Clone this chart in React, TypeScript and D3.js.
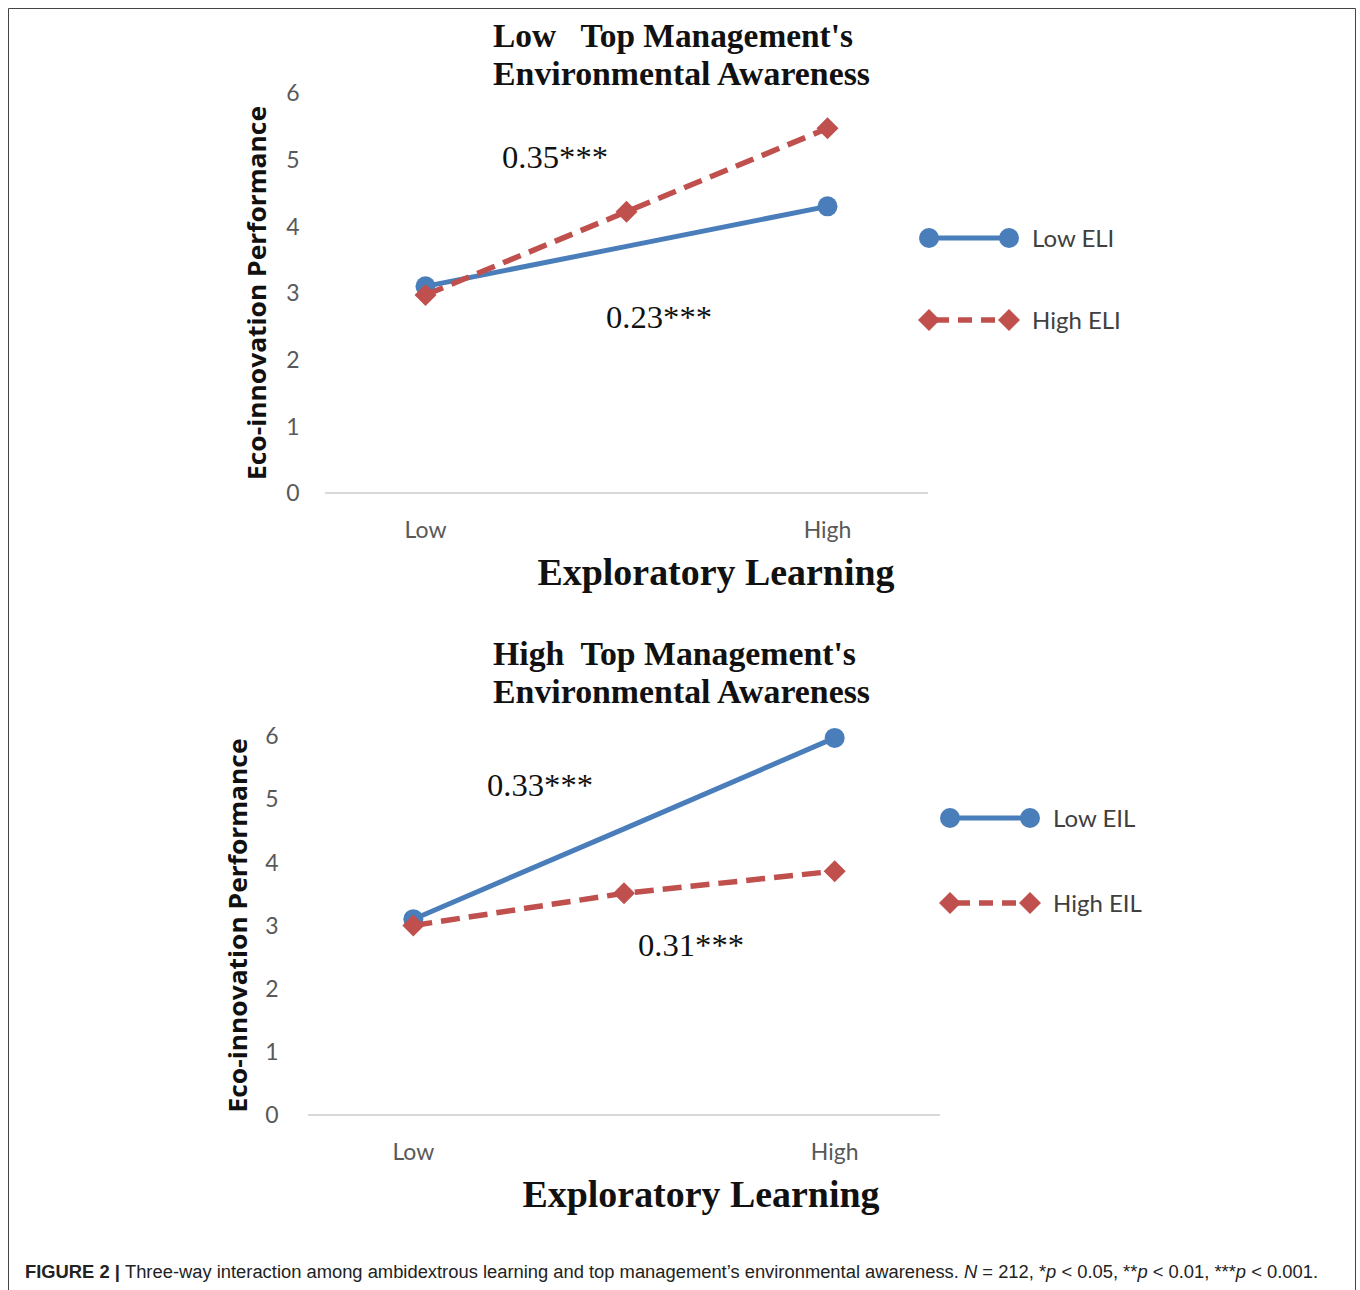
import React from "react";
import * as d3 from "d3";

const categories = ["Low", "", "High"];
const yTicks = [0, 1, 2, 3, 4, 5, 6];

// Panel 1: Low top management's environmental awareness
const top_lowELI = [3.1, 3.7, 4.3];
const top_highELI = [2.97, 4.22, 5.47];
// Panel 2: High top management's environmental awareness
const bot_lowEIL = [3.1, 4.53, 5.97];
const bot_highEIL = [3.0, 3.51, 3.86];

const solidMarkers = [true, false, true];
const dashedMarkers = [true, true, true];

const BLUE = "#4a7ebb";
const RED = "#c0504d";
const TICK = "#595959";
const SERIF = "'Liberation Serif', 'Times New Roman', serif";
const SANS = "Lato, 'Noto Sans', sans-serif";

type PanelProps = {
  title1: string;
  title2: string;
  title1Len: number;
  titleX: number;
  titleY: number;
  x0: number;
  x1: number;
  yTop: number;
  yBottom: number;
  tickX: number;
  yTitleX: number;
  xTitleX: number;
  xTitleY: number;
  catLabelY: number;
  solid: number[];
  dashed: number[];
  ann1: { text: string; x: number; y: number };
  ann2: { text: string; x: number; y: number };
  legendX: number;
  legendY1: number;
  legendY2: number;
  legend1: string;
  legend2: string;
};

function Diamond({ cx, cy, r, fill }: { cx: number; cy: number; r: number; fill: string }) {
  return (
    <path
      d={`M${cx},${cy - r}L${cx + r},${cy}L${cx},${cy + r}L${cx - r},${cy}Z`}
      fill={fill}
    />
  );
}

function Panel(p: PanelProps) {
  const x = d3.scaleBand<string>().domain(categories.map((c, i) => String(i))).range([p.x0, p.x1]);
  const y = d3.scaleLinear().domain([0, 6]).range([p.yBottom, p.yTop]);
  const cx = (i: number) => (x(String(i)) as number) + x.bandwidth() / 2;
  const line = d3
    .line<number>()
    .x((_, i) => cx(i))
    .y((d) => y(d));

  return (
    <g>
      <text
        x={p.titleX}
        y={p.titleY}
        fontFamily={SERIF}
        fontWeight="bold"
        fontSize={33}
        fill="#111"
        style={{ whiteSpace: "pre" }}
        textLength={p.title1Len}
        lengthAdjust="spacingAndGlyphs"
      >
        {p.title1}
      </text>
      <text
        x={p.titleX}
        y={p.titleY + 38}
        fontFamily={SERIF}
        fontWeight="bold"
        fontSize={33}
        fill="#111"
        textLength={377}
        lengthAdjust="spacingAndGlyphs"
      >
        {p.title2}
      </text>

      {yTicks.map((t) => (
        <text
          key={t}
          x={p.tickX}
          y={y(t)}
          dy="0.36em"
          textAnchor="middle"
          fontFamily={SANS}
          fontSize={23}
          fill={TICK}
        >
          {t}
        </text>
      ))}

      <line x1={p.x0} x2={p.x1} y1={y(0)} y2={y(0)} stroke="#d9d9d9" strokeWidth={2} />

      {categories.map((c, i) => (
        <text
          key={i}
          x={cx(i)}
          y={p.catLabelY}
          dy="0.36em"
          textAnchor="middle"
          fontFamily={SANS}
          fontSize={23}
          fill={TICK}
        >
          {c}
        </text>
      ))}

      <text
        transform={`translate(${p.yTitleX},${(p.yTop + p.yBottom) / 2}) rotate(-90)`}
        textAnchor="middle"
        dy="0.36em"
        fontFamily="'Open Sans', Lato, sans-serif"
        fontWeight="bold"
        fontSize={25}
        fill="#111"
        textLength={374}
        lengthAdjust="spacingAndGlyphs"
      >
        Eco-innovation Performance
      </text>

      <text
        x={p.xTitleX}
        y={p.xTitleY}
        textAnchor="middle"
        fontFamily={SERIF}
        fontWeight="bold"
        fontSize={38}
        fill="#111"
        textLength={357}
        lengthAdjust="spacingAndGlyphs"
      >
        Exploratory Learning
      </text>

      <path d={line(p.solid) || ""} fill="none" stroke={BLUE} strokeWidth={5} />
      {p.solid.map((v, i) =>
        solidMarkers[i] ? <circle key={i} cx={cx(i)} cy={y(v)} r={10} fill={BLUE} /> : null
      )}
      <path
        d={line(p.dashed) || ""}
        fill="none"
        stroke={RED}
        strokeWidth={5.5}
        strokeDasharray="19,9"
      />
      {p.dashed.map((v, i) =>
        dashedMarkers[i] ? <Diamond key={i} cx={cx(i)} cy={y(v)} r={11} fill={RED} /> : null
      )}

      <text
        x={p.ann1.x}
        y={p.ann1.y}
        fontFamily={SERIF}
        fontSize={31}
        fill="#111"
        textLength={106}
        lengthAdjust="spacingAndGlyphs"
      >
        {p.ann1.text}
      </text>
      <text
        x={p.ann2.x}
        y={p.ann2.y}
        fontFamily={SERIF}
        fontSize={31}
        fill="#111"
        textLength={106}
        lengthAdjust="spacingAndGlyphs"
      >
        {p.ann2.text}
      </text>

      {/* legend */}
      <line x1={p.legendX} x2={p.legendX + 80} y1={p.legendY1} y2={p.legendY1} stroke={BLUE} strokeWidth={5} />
      <circle cx={p.legendX} cy={p.legendY1} r={10} fill={BLUE} />
      <circle cx={p.legendX + 80} cy={p.legendY1} r={10} fill={BLUE} />
      <text
        x={p.legendX + 103}
        y={p.legendY1}
        dy="0.36em"
        fontFamily={SANS}
        fontSize={24}
        fill="#404040"
      >
        {p.legend1}
      </text>
      <line
        x1={p.legendX}
        x2={p.legendX + 80}
        y1={p.legendY2}
        y2={p.legendY2}
        stroke={RED}
        strokeWidth={5.5}
        strokeDasharray="14,9"
        strokeDashoffset={-6}
      />
      <Diamond cx={p.legendX} cy={p.legendY2} r={11} fill={RED} />
      <Diamond cx={p.legendX + 80} cy={p.legendY2} r={11} fill={RED} />
      <text
        x={p.legendX + 103}
        y={p.legendY2}
        dy="0.36em"
        fontFamily={SANS}
        fontSize={24}
        fill="#404040"
      >
        {p.legend2}
      </text>
    </g>
  );
}

export default function App() {
  return (
    <svg
      width={1360}
      height={1290}
      style={{ position: "absolute", left: 0, top: 0, background: "#fff" }}
    >
      <rect x={0} y={0} width={1360} height={1290} fill="#fff" />
      <path d="M8.5,1290 L8.5,8.5 L1355.5,8.5 L1355.5,1290" fill="none" stroke="#444" strokeWidth={1} />

      <Panel
        title1={"Low   Top Management's"}
        title2="Environmental Awareness"
        title1Len={360}
        titleX={493}
        titleY={47}
        x0={325}
        x1={928}
        yTop={93}
        yBottom={493}
        tickX={293}
        yTitleX={257}
        xTitleX={716}
        xTitleY={585}
        catLabelY={530}
        solid={top_lowELI}
        dashed={top_highELI}
        ann1={{ text: "0.35***", x: 502, y: 168 }}
        ann2={{ text: "0.23***", x: 606, y: 328 }}
        legendX={929}
        legendY1={238}
        legendY2={320}
        legend1="Low ELI"
        legend2="High ELI"
      />

      <Panel
        title1={"High  Top Management's"}
        title2="Environmental Awareness"
        title1Len={363}
        titleX={493}
        titleY={665}
        x0={308}
        x1={940}
        yTop={736}
        yBottom={1115}
        tickX={272}
        yTitleX={238}
        xTitleX={701}
        xTitleY={1207}
        catLabelY={1152}
        solid={bot_lowEIL}
        dashed={bot_highEIL}
        ann1={{ text: "0.33***", x: 487, y: 796 }}
        ann2={{ text: "0.31***", x: 638, y: 956 }}
        legendX={950}
        legendY1={818}
        legendY2={903}
        legend1="Low EIL"
        legend2="High EIL"
      />

      <text
        x={25}
        y={1278}
        fontFamily="'Liberation Sans', Arial, sans-serif"
        fontSize={18}
        fill="#222"
        textLength={1293}
        lengthAdjust="spacingAndGlyphs"
      >
        <tspan fontWeight="bold">FIGURE 2 | </tspan>
        <tspan>Three-way interaction among ambidextrous learning and top management’s environmental awareness. </tspan>
        <tspan fontStyle="italic">N</tspan>
        <tspan> = 212, *</tspan>
        <tspan fontStyle="italic">p</tspan>
        <tspan> &lt; 0.05, **</tspan>
        <tspan fontStyle="italic">p</tspan>
        <tspan> &lt; 0.01, ***</tspan>
        <tspan fontStyle="italic">p</tspan>
        <tspan> &lt; 0.001.</tspan>
      </text>
    </svg>
  );
}
